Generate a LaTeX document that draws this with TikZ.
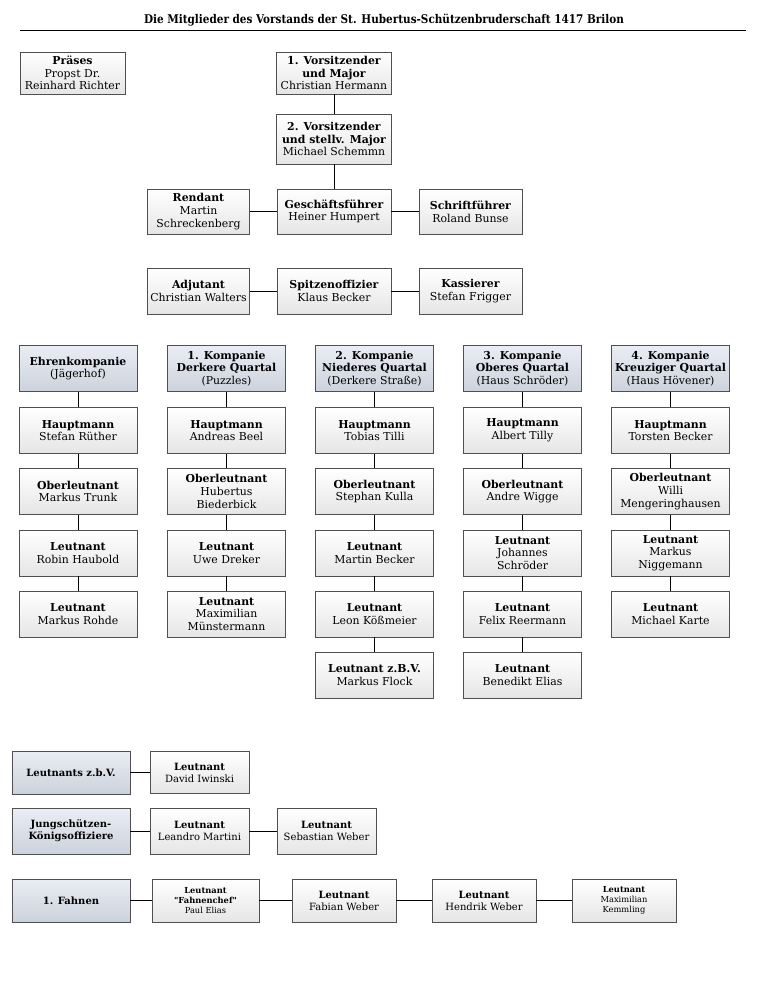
\documentclass[tikz,border=0pt]{standalone}
\usepackage{fontspec}
\setmainfont{DejaVu Serif}
\newfontfamily\titelfont[FakeStretch=0.87]{DejaVu Serif}
\newfontfamily\geradefont[Ligatures=TeXOff]{DejaVu Serif}
\usetikzlibrary{positioning}

\definecolor{kopfhell}{HTML}{EAEDF3}
\definecolor{kopfdunkel}{HTML}{CCD2DC}
\definecolor{rahmen}{HTML}{505050}

\tikzset{
  amt/.style={draw=rahmen, line width=0.8pt, top color=white, bottom color=black!10,
    align=center, inner sep=1pt, font=\fontsize{10.9}{12.6}\selectfont},
  kopf/.style={amt, top color=kopfhell, bottom color=kopfdunkel},
  klein/.style={font=\fontsize{10}{12}\selectfont},
  winzig/.style={font=\fontsize{8.3}{10.2}\selectfont},
  verb/.style={line width=0.8pt},
}

\begin{document}
\begin{tikzpicture}[x=1pt,y=-1pt]
\useasboundingbox (0,0) rectangle (768,987);

% Titel
\node[font=\titelfont\bfseries\fontsize{12}{14}\selectfont] (titel) at (384,20)
  {Die Mitglieder des Vorstands der St. Hubertus-Schützenbruderschaft 1417 Brilon};
\draw[line width=1.1pt] (20,30.5) -- (746,30.5);

% Vorstand
\node[amt, minimum width=105, minimum height=42] (praeses) at (72.5,73)
  {\textbf{Präses}\\Propst Dr.\\Reinhard Richter};
\node[amt, minimum width=115, minimum height=42] (vors1) at (334,73)
  {\textbf{1. Vorsitzender}\\\textbf{und Major}\\Christian Hermann};
\node[amt, minimum width=115, minimum height=50] (vors2) at (334,139)
  {\textbf{2. Vorsitzender}\\\textbf{und stellv. Major}\\Michael Schemmn};
\node[amt, minimum width=102, minimum height=45] (rendant) at (198.5,211.5)
  {\textbf{Rendant}\\Martin\\Schreckenberg};
\node[amt, minimum width=114, minimum height=45] (gf) at (334,211.5)
  {\textbf{Geschäftsführer}\\Heiner Humpert};
\node[amt, minimum width=103, minimum height=45] (schrift) at (470.5,211.5)
  {\textbf{Schriftführer}\\Roland Bunse};
\node[amt, minimum width=102, minimum height=46] (adjutant) at (198.5,291)
  {\textbf{Adjutant}\\Christian Walters};
\node[amt, minimum width=114, minimum height=46] (spitze) at (334,291)
  {\textbf{Spitzenoffizier}\\Klaus Becker};
\node[amt, minimum width=103, minimum height=46] (kassierer) at (470.5,291)
  {\textbf{Kassierer}\\Stefan Frigger};

\draw[verb] (vors1) -- (vors2);
\draw[verb] (vors2) -- (gf);
\draw[verb] (rendant) -- (gf);
\draw[verb] (gf) -- (schrift);
\draw[verb] (adjutant) -- (spitze);
\draw[verb] (spitze) -- (kassierer);

% Kompanien
\tikzset{every node/.append style={minimum width=118, minimum height=46}}
\node[kopf] (K00) at (78,368.5) {\textbf{Ehrenkompanie}\\(Jägerhof)};
\node[amt] (K01) at (78,430.5) {\textbf{Hauptmann}\\Stefan Rüther};
\node[amt] (K02) at (78,491.5) {\textbf{Oberleutnant}\\Markus Trunk};
\node[amt] (K03) at (78,553) {\textbf{Leutnant}\\Robin Haubold};
\node[amt] (K04) at (78,614) {\textbf{Leutnant}\\Markus Rohde};

\node[kopf] (K10) at (226.5,368.5) {\textbf{1. Kompanie}\\\textbf{Derkere Quartal}\\(Puzzles)};
\node[amt] (K11) at (226.5,430.5) {\textbf{Hauptmann}\\Andreas Beel};
\node[amt] (K12) at (226.5,491.5) {\textbf{Oberleutnant}\\Hubertus\\Biederbick};
\node[amt] (K13) at (226.5,553) {\textbf{Leutnant}\\Uwe Dreker};
\node[amt] (K14) at (226.5,614) {\textbf{Leutnant}\\Maximilian\\Münstermann};

\node[kopf] (K20) at (374.5,368.5) {\textbf{2. Kompanie}\\\textbf{Niederes Quartal}\\(Derkere Straße)};
\node[amt] (K21) at (374.5,430.5) {\textbf{Hauptmann}\\Tobias Tilli};
\node[amt] (K22) at (374.5,491.5) {\textbf{Oberleutnant}\\Stephan Kulla};
\node[amt] (K23) at (374.5,553) {\textbf{Leutnant}\\Martin Becker};
\node[amt] (K24) at (374.5,614) {\textbf{Leutnant}\\Leon Kößmeier};
\node[amt] (K25) at (374.5,675) {\textbf{Leutnant z.B.V.}\\Markus Flock};

\node[kopf] (K30) at (522.5,368.5) {\textbf{3. Kompanie}\\\textbf{Oberes Quartal}\\(Haus Schröder)};
\node[amt] (K31) at (522.5,430.5) {\textbf{Hauptmann}\\Albert Tilly};
\node[amt] (K32) at (522.5,491.5) {\textbf{Oberleutnant}\\Andre Wigge};
\node[amt] (K33) at (522.5,553) {\textbf{Leutnant}\\Johannes\\Schröder};
\node[amt] (K34) at (522.5,614) {\textbf{Leutnant}\\Felix Reermann};
\node[amt] (K35) at (522.5,675) {\textbf{Leutnant}\\Benedikt Elias};

\node[kopf] (K40) at (670.5,368.5) {\textbf{4. Kompanie}\\\textbf{Kreuziger Quartal}\\(Haus Hövener)};
\node[amt] (K41) at (670.5,430.5) {\textbf{Hauptmann}\\Torsten Becker};
\node[amt] (K42) at (670.5,491.5) {\textbf{Oberleutnant}\\Willi\\Mengeringhausen};
\node[amt] (K43) at (670.5,553) {\textbf{Leutnant}\\Markus\\Niggemann};
\node[amt] (K44) at (670.5,614) {\textbf{Leutnant}\\Michael Karte};

% senkrechte Linien je Kompanie
\foreach \k/\n in {0/3,1/3,2/4,3/4,4/3} {
  \foreach \r in {0,...,\n} {
    \pgfmathtruncatemacro{\s}{\r+1}
    \draw[verb] (K\k\r) -- (K\k\s);
  }
}

% Leutnants z.b.V., Jungschützen, Fahnen
\node[kopf, klein, minimum height=43] (zbv) at (71,772.5) {\textbf{Leutnants z.b.V.}};
\node[amt, klein, minimum width=99, minimum height=42] (zbv1) at (199.5,772.5)
  {\textbf{Leutnant}\\David Iwinski};

\node[kopf, klein] (jung) at (71,831) {\textbf{Jungschützen-}\\\textbf{Königsoffiziere}};
\node[amt, klein, minimum width=99] (jung1) at (199.5,831) {\textbf{Leutnant}\\Leandro Martini};
\node[amt, klein, minimum width=99] (jung2) at (326.5,831) {\textbf{Leutnant}\\Sebastian Weber};

\node[kopf, klein, minimum height=43] (fahne) at (71,900.5) {\textbf{1. Fahnen}};
\node[amt, winzig, minimum width=107, minimum height=43] (fahne1) at (205.5,900.5)
  {\textbf{Leutnant}\\{\geradefont\bfseries "Fahnenchef"}\\Paul Elias};
\node[amt, klein, minimum width=104, minimum height=43] (fahne2) at (344,900.5)
  {\textbf{Leutnant}\\Fabian Weber};
\node[amt, klein, minimum width=104, minimum height=43] (fahne3) at (484,900.5)
  {\textbf{Leutnant}\\Hendrik Weber};
\node[amt, winzig, minimum width=104, minimum height=43] (fahne4) at (624,900.5)
  {\textbf{Leutnant}\\Maximilian\\Kemmling};

\draw[verb] (zbv) -- (zbv1);
\draw[verb] (jung) -- (jung1);
\draw[verb] (jung1) -- (jung2);
\draw[verb] (fahne) -- (fahne1);
\draw[verb] (fahne1) -- (fahne2);
\draw[verb] (fahne2) -- (fahne3);
\draw[verb] (fahne3) -- (fahne4);

\end{tikzpicture}
\end{document}
